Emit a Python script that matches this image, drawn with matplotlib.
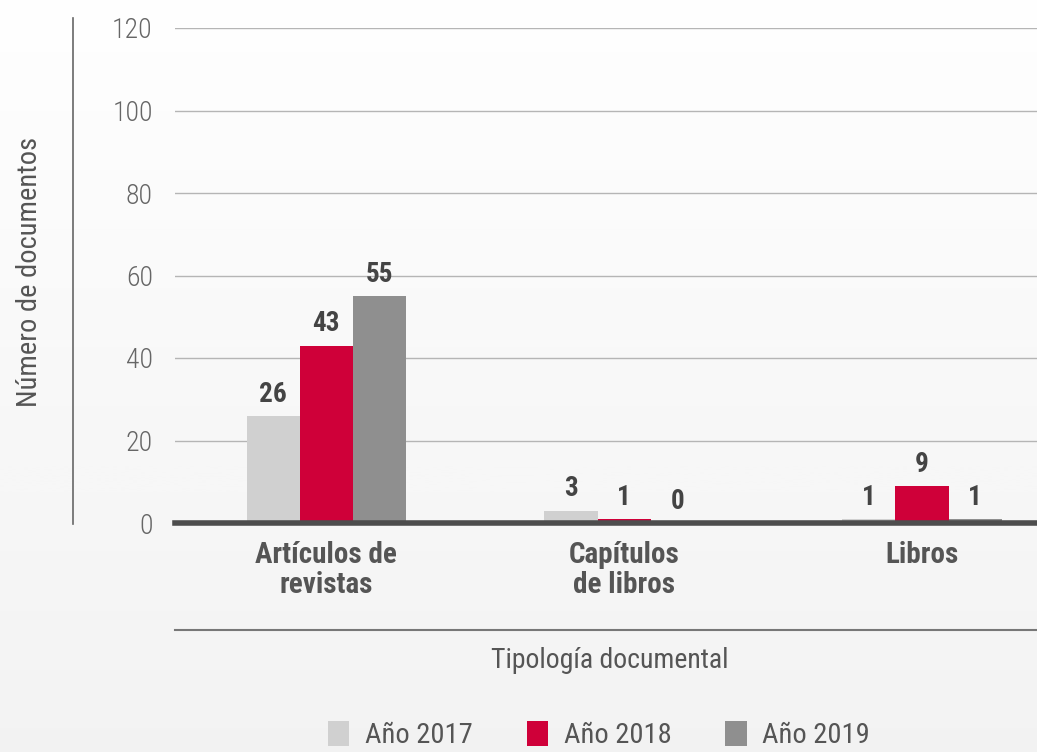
import numpy as np
import matplotlib.pyplot as plt
from matplotlib import font_manager
from matplotlib.lines import Line2D
from matplotlib.patches import Patch

categories = ['Artículos de\nrevistas', 'Capítulos\nde libros', 'Libros']
years = ['Año 2017', 'Año 2018', 'Año 2019']
values_2017 = [26, 3, 1]
values_2018 = [43, 1, 9]
values_2019 = [55, 0, 1]
yticks = [0, 20, 40, 60, 80, 100, 120]

colors = ['#d0d0d0', '#cf0039', '#8f8f8f']
txt = '#555555'

# pick a narrow face if one is installed
fonts = font_manager.fontManager.ttflist
names = {f.name for f in fonts}
stretch = 'normal'
if 'Liberation Sans Narrow' in names:
    family = 'Liberation Sans Narrow'
elif 'Roboto Condensed' in names:
    family = 'Roboto Condensed'
elif any(f.name == 'DejaVu Sans' and f.stretch == 'condensed' for f in fonts):
    family = 'DejaVu Sans'
    stretch = 'condensed'
else:
    family = 'Roboto'
plt.rcParams['font.family'] = [family, 'DejaVu Sans']
plt.rcParams['font.stretch'] = stretch

fig = plt.figure(figsize=(10.37, 7.52), dpi=100)

# soft vertical gradient background
bg = fig.add_axes([0, 0, 1, 1], zorder=-10)
grad = np.linspace(0, 1, 256).reshape(-1, 1)
bg.imshow(grad, aspect='auto', cmap='Greys', vmin=-0.05, vmax=10,
          extent=[0, 1, 0, 1], origin='upper')
bg.set_axis_off()

ax = fig.add_axes([175 / 1037, 1 - 523 / 752, 1 - 175 / 1037, (523 - 28) / 752])
ax.patch.set_alpha(0)

x = np.arange(len(categories))
w = 0.178
series = [values_2017, values_2018, values_2019]
for i, vals in enumerate(series):
    pos = x + (i - 1) * w
    ax.bar(pos, vals, width=w, color=colors[i], zorder=3)
    for p, v in zip(pos, vals):
        ax.text(p, v + 2, str(v), ha='center', va='bottom', fontsize=19.5,
                fontweight='bold', color='#444444')

ax.set_ylim(0, 120)
ax.set_xlim(-0.507, 2.386)
ax.set_yticks(yticks)
ax.set_yticklabels([str(t) for t in yticks], fontsize=20, color='#666666',
                   fontweight='light')
ax.grid(axis='y', color='#b5b5b5', linewidth=1, zorder=0)
ax.tick_params(axis='y', length=0, pad=16)
ax.set_xticks(x)
ax.set_xticklabels(categories, fontsize=21, fontweight='bold', color='#555555',
                   linespacing=1.1, va='top')
ax.tick_params(axis='x', length=0, pad=13)
for s in ['top', 'right', 'left']:
    ax.spines[s].set_visible(False)
ax.spines['bottom'].set_color('#4d4d4d')
ax.spines['bottom'].set_linewidth(4)
ax.spines['bottom'].set_zorder(5)

# left vertical rule and lower rule
fig.add_artist(Line2D([73 / 1037, 73 / 1037], [1 - 18 / 752, 1 - 524 / 752],
                      color='#666666', linewidth=1.2))
fig.add_artist(Line2D([175 / 1037, 1], [1 - 630 / 752, 1 - 630 / 752],
                      color='#777777', linewidth=1.5))

fig.text(30 / 1037, 1 - 272 / 752, 'Número de documentos', rotation=90,
         ha='center', va='center', fontsize=20.5, color=txt)
fig.text(610 / 1037, 1 - 661 / 752, 'Tipología documental', ha='center',
         va='center', fontsize=20, color=txt)

handles = [Patch(facecolor=c, label=l) for c, l in zip(colors, years)]
fig.legend(handles=handles, loc='center', bbox_to_anchor=(599 / 1037, 1 - 735 / 752),
           ncol=3, frameon=False, handlelength=0.75, handleheight=1.0,
           handletextpad=0.55, columnspacing=1.9, labelcolor=txt,
           prop={'size': 20.5})

fig.savefig('out.png', dpi=100)
